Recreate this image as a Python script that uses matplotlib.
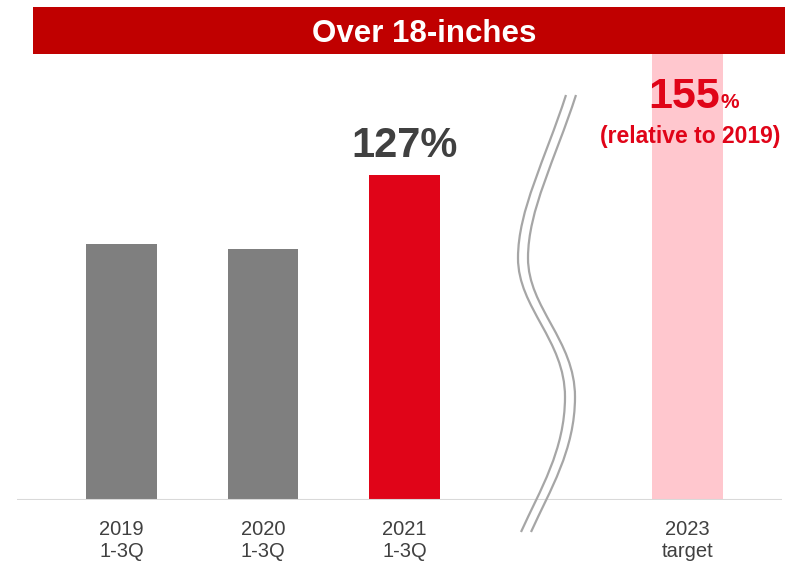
import matplotlib.pyplot as plt
from matplotlib.patches import Rectangle, PathPatch
from matplotlib.path import Path

plt.rcParams["font.family"] = ["Liberation Sans", "DejaVu Sans"]

# share of 2019 1-3Q volume, in percent
periods = ["2019\n1-3Q", "2020\n1-3Q", "2021\n1-3Q"]
shares = [100, 98, 127]
target_label = "2023\ntarget"
target_share = 155

GREY = "#7F7F7F"
RED = "#E00418"
PINK = "#FFC7CE"
BANNER = "#C00000"
DARK = "#404040"

W, H = 802, 565
fig = plt.figure(figsize=(W / 100, H / 100), dpi=100)


def px(x, y):
    # pixel position (from top-left) -> figure fraction
    return x / W, 1 - y / H


ax = fig.add_axes([17 / W, (H - 500) / H, (782 - 17) / W, (500 - 54) / H])
positions = [0, 1, 2]
target_pos = 4
ymax = 174.2

ax.bar(positions, shares, width=0.5, color=[GREY, GREY, RED], zorder=2)
# the target bar runs off the broken axis, so it fills the full height
ax.bar(target_pos, ymax, width=0.5, color=PINK, zorder=1)
ax.axhline(0, color="#D9D9D9", lw=1.5, zorder=3)

ax.set_xlim(-0.739, 4.668)
ax.set_ylim(0, ymax)
for s in ax.spines.values():
    s.set_visible(False)
ax.set_yticks([])
ax.set_xticks(positions + [target_pos], periods + [target_label])
ax.tick_params(axis="x", length=0, pad=14.5, labelsize=14.5, labelcolor=DARK)
for lbl in ax.get_xticklabels():
    lbl.set_linespacing(1.2)

ax.annotate(f"{shares[2]}%", xy=(positions[2], shares[2]), xytext=(0, 13),
            textcoords="offset points", ha="center", va="baseline",
            fontsize=30, fontweight="bold", color=DARK)

ax.text(4.23, 153, f"{target_share}", ha="right", va="baseline",
        fontsize=31, fontweight="bold", color=RED)
ax.text(4.23, 153, "%", ha="left", va="baseline",
        fontsize=15, fontweight="bold", color=RED)
ax.text(4.02, 139.5, "(relative to 2019)", ha="center", va="baseline",
        fontsize=16.5, fontweight="bold", color=RED)

# header banner
x0, y0 = px(33, 54)
fig.add_artist(Rectangle((x0, y0), (785 - 33) / W, 47 / H,
                         transform=fig.transFigure, color=BANNER, lw=0))
fig.text(*px(424.5, 42), "Over 18-inches", ha="center", va="baseline",
         fontsize=22.5, fontweight="bold", color="white")

# axis break marker: two parallel wavy strokes
codes = [Path.MOVETO] + [Path.CURVE4] * 9
for dx in (0, 10):
    pts = [(566, 95), (545, 160), (518, 210), (518, 258),
           (518, 308), (565, 340), (565, 397),
           (565, 450), (540, 490), (521, 532)]
    verts = [px(x + dx, y) for x, y in pts]
    fig.add_artist(PathPatch(Path(verts, codes), transform=fig.transFigure,
                             fill=False, edgecolor="#A6A6A6", lw=1.6))

fig.savefig("out.png", dpi=100)
